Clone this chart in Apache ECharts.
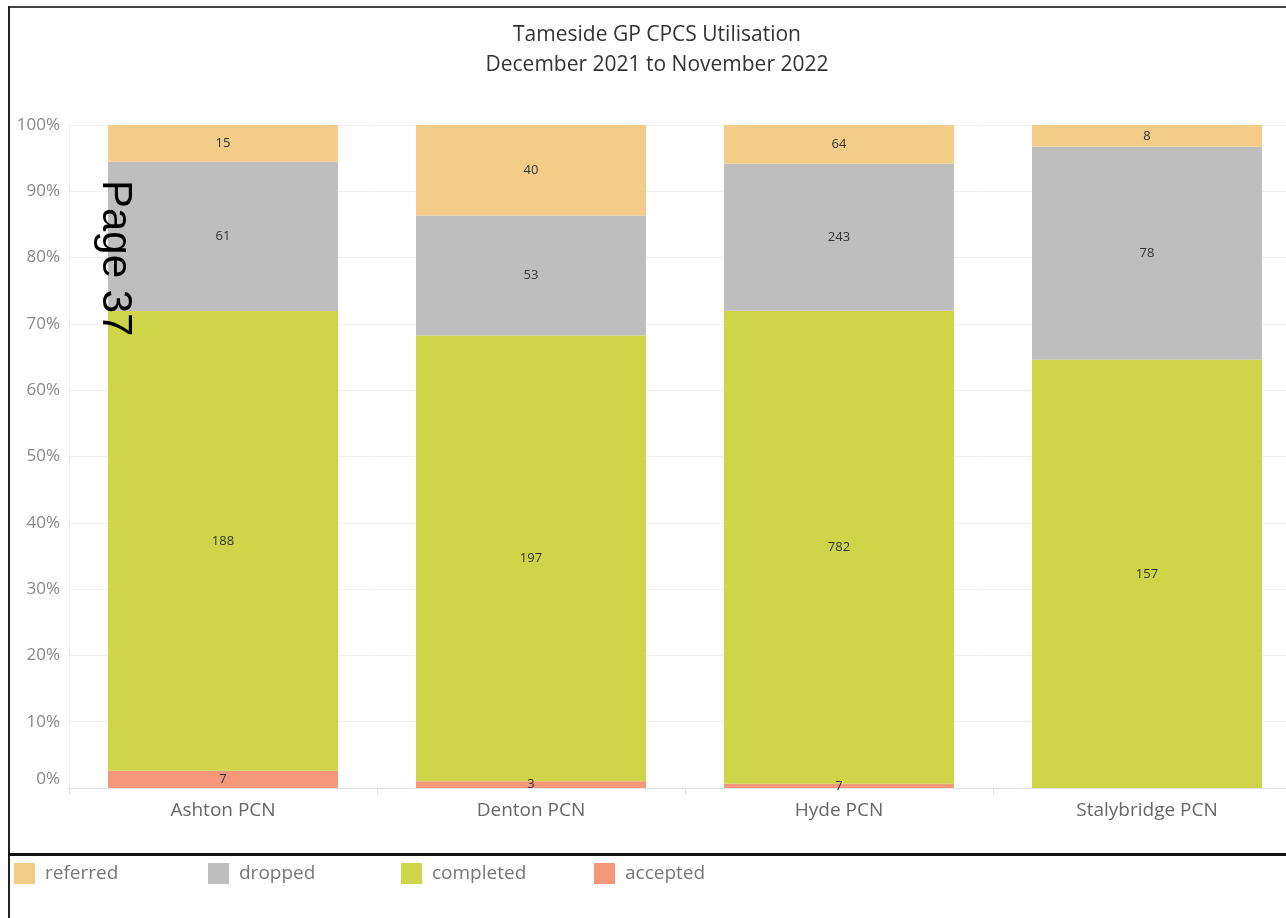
<!DOCTYPE html>
<html>
<head>
<meta charset="utf-8">
<script src="https://cdn.jsdelivr.net/npm/echarts@6/dist/echarts.min.js"></script>
<style>
  html, body { margin: 0; padding: 0; background: #fff; }
  #chart { width: 1286px; height: 918px; }
</style>
</head>
<body>
<div id="chart"></div>
<script>
const categories = ["Ashton PCN", "Denton PCN", "Hyde PCN", "Stalybridge PCN"];
const accepted = [7, 3, 7, 0];
const completed = [188, 197, 782, 157];
const dropped = [61, 53, 243, 78];
const referred = [15, 40, 64, 8];
const yTicks = [0, 10, 20, 30, 40, 50, 60, 70, 80, 90, 100];
const legendOrder = ["referred", "dropped", "completed", "accepted"];

const colors = {
  referred: "#f3cc87",
  dropped: "#bebebe",
  completed: "#cfd548",
  accepted: "#f5977a",
};

const font = "'Open Sans', sans-serif";
const totals = categories.map((_, i) => accepted[i] + completed[i] + dropped[i] + referred[i]);

// 100% stacked: value is share of the PCN total, label keeps the raw count
function makeSeries(name, counts) {
  return {
    name,
    type: "bar",
    stack: "all",
    barWidth: 230,
    itemStyle: { color: colors[name] },
    emphasis: { disabled: true },
    data: counts.map((c, i) => ({ value: (c / totals[i]) * 100, count: c })),
    label: {
      show: true,
      position: "inside",
      color: "#333",
      fontFamily: font,
      fontSize: 13,
      formatter: (p) => (p.data.count ? String(p.data.count) : ""),
    },
  };
}

// one legend per entry so the items sit at fixed spacing like the original
const legendLeft = [14, 208, 401, 594];
const legends = legendOrder.map((name, i) => ({
  left: legendLeft[i],
  top: 863,
  padding: 0,
  itemWidth: 21,
  itemHeight: 21,
  icon: "rect",
  selectedMode: false,
  data: [name],
  textStyle: { color: "#777", fontFamily: font, fontSize: 19, padding: [2, 0, 0, 5] },
}));

const chart = echarts.init(document.getElementById("chart"));
chart.setOption({
  animation: false,
  title: {
    text: "Tameside GP CPCS Utilisation\nDecember 2021 to November 2022",
    left: 652,
    textAlign: "center",
    top: 15,
    textStyle: { color: "#333", fontFamily: font, fontSize: 21, fontWeight: "normal", lineHeight: 30 },
  },
  legend: legends,
  grid: { left: 69, top: 125, width: 1232, height: 663, outerBoundsMode: "none" },
  xAxis: {
    type: "category",
    data: categories,
    axisLine: { lineStyle: { color: "#e3e3e3" } },
    axisTick: { show: true, length: 7, lineStyle: { color: "#e3e3e3" } },
    axisLabel: { color: "#666", fontFamily: font, fontSize: 19, margin: 13 },
  },
  yAxis: {
    type: "value",
    min: yTicks[0],
    max: yTicks[yTicks.length - 1],
    interval: 10,
    axisLine: { show: true, lineStyle: { color: "#ececec" } },
    axisTick: { show: false },
    splitLine: { lineStyle: { color: "#f0f0f0" } },
    axisLabel: {
      color: "#888",
      fontFamily: font,
      fontSize: 17,
      margin: 9,
      formatter: "{value}%",
      verticalAlignMinLabel: "bottom",
    },
  },
  series: [
    makeSeries("accepted", accepted),
    makeSeries("completed", completed),
    makeSeries("dropped", dropped),
    makeSeries("referred", referred),
  ],
  graphic: [
    { type: "rect", silent: true, shape: { x: 8, y: 6, width: 1300, height: 2 }, style: { fill: "#444" } },
    { type: "rect", silent: true, shape: { x: 8, y: 6, width: 2, height: 920 }, style: { fill: "#222" } },
    { type: "rect", silent: true, shape: { x: 8, y: 853, width: 1300, height: 3 }, style: { fill: "#111" } },
    {
      type: "text",
      silent: true,
      x: 115,
      y: 180,
      rotation: -Math.PI / 2,
      style: { text: "Page 37", fill: "#000", font: "42px 'Liberation Sans', Arial, sans-serif", textAlign: "left", textVerticalAlign: "middle" },
      z: 100,
    },
  ],
});
</script>
</body>
</html>
